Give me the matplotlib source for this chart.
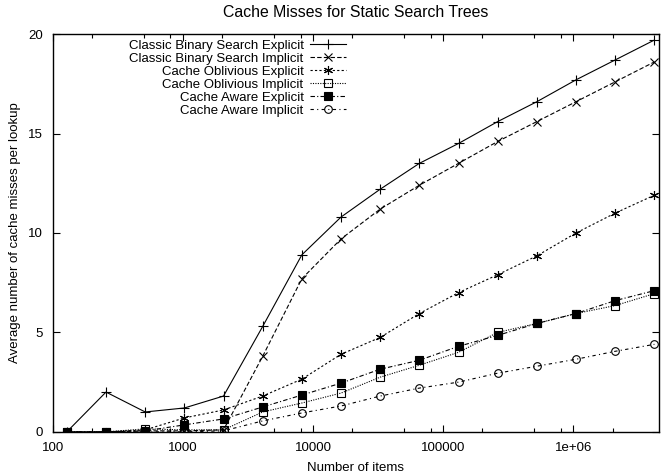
import numpy as np
import matplotlib
matplotlib.use("Agg")
import matplotlib.pyplot as plt
from matplotlib.ticker import FixedLocator, FixedFormatter

plt.rcParams['font.family'] = ['Liberation Sans', 'DejaVu Sans']
plt.rcParams['font.size'] = 9.5

# number of items (powers of two)
items = [128, 256, 512, 1024, 2048, 4096, 8192, 16384, 32768, 65536,
         131072, 262144, 524288, 1048576, 2097152, 4194304]

# average cache misses per lookup
cbs_explicit = [0, 2.0, 1.0, 1.2, 1.8, 5.3, 8.9, 10.8, 12.2, 13.5, 14.5, 15.6, 16.6, 17.7, 18.7, 19.7]
cbs_implicit = [0, 0, 0.05, 0.05, 0.1, 3.8, 7.7, 9.7, 11.2, 12.4, 13.5, 14.6, 15.6, 16.6, 17.6, 18.6]
co_explicit = [0, 0, 0.1, 0.7, 1.1, 1.8, 2.65, 3.9, 4.75, 5.95, 7.0, 7.9, 8.85, 10.0, 11.0, 11.9]
co_implicit = [0, 0, 0.15, 0.1, 0.1, 1.0, 1.45, 1.95, 2.75, 3.35, 4.0, 5.0, 5.45, 5.95, 6.35, 6.95]
ca_explicit = [0, 0, 0.05, 0.35, 0.65, 1.25, 1.85, 2.45, 3.15, 3.6, 4.3, 4.85, 5.45, 5.95, 6.6, 7.1]
ca_implicit = [0, 0, 0, 0, 0.05, 0.55, 0.95, 1.3, 1.8, 2.2, 2.5, 2.95, 3.3, 3.65, 4.05, 4.4]

labels = ["Classic Binary Search Explicit", "Classic Binary Search Implicit",
          "Cache Oblivious Explicit", "Cache Oblivious Implicit",
          "Cache Aware Explicit", "Cache Aware Implicit"]

xticks = [100, 1000, 10000, 100000, 1000000]
xticklabels = ["100", "1000", "10000", "100000", "1e+06"]
yticks = [0, 5, 10, 15, 20]

fig = plt.figure(figsize=(6.61, 4.73), dpi=100)
ax = fig.add_axes([0.080, 0.087, 0.917, 0.841])

lw = 0.8
ax.plot(items, cbs_explicit, color="black", lw=lw, ls="-", marker="+", ms=6.5, mew=0.8, label=labels[0])
ax.plot(items, cbs_implicit, color="black", lw=lw, ls=(0, (4, 2)), marker="x", ms=5.5, mew=0.8, label=labels[1])
ax.plot(items, co_explicit, color="black", lw=lw, ls=(0, (2, 2)), marker=(6, 2, 0), ms=6.5, mew=0.8, label=labels[2])
ax.plot(items, co_implicit, color="black", lw=lw, ls=(0, (1, 1.2)), marker="s", ms=5.5, mew=0.8,
        mfc="none", label=labels[3])
ax.plot(items, ca_explicit, color="black", lw=lw, ls=(0, (4, 2, 1, 2)), marker="s", ms=6, mew=0.8, label=labels[4])
ax.plot(items, ca_implicit, color="black", lw=lw, ls=(0, (3, 3, 1, 3)), marker="o", ms=5.5, mew=0.8,
        mfc="none", label=labels[5])

ax.set_xscale("log")
ax.set_xlim(100, 4.55e6)
ax.set_ylim(0, 20)

ax.xaxis.set_major_locator(FixedLocator(xticks))
ax.xaxis.set_major_formatter(FixedFormatter(xticklabels))
minors = [m * 10 ** e for e in range(2, 7) for m in (2, 5, 8)]
ax.xaxis.set_minor_locator(FixedLocator(minors))
ax.xaxis.set_minor_formatter(FixedFormatter([""] * len(minors)))
ax.set_yticks(yticks)

ax.tick_params(which="both", direction="in", top=True, right=True, width=0.8)
ax.tick_params(which="major", length=5)
ax.tick_params(which="minor", length=3)
ax.tick_params(axis="x", pad=7)
ax.tick_params(axis="y", pad=7)
for s in ax.spines.values():
    s.set_linewidth(1.0)

ax.set_xlabel("Number of items", labelpad=6)
ax.set_ylabel("Average number of cache misses per lookup", labelpad=5)
ax.set_title("Cache Misses for Static Search Trees", pad=12)

ax.legend(loc="upper right", bbox_to_anchor=(0.492, 1.0), frameon=False,
          markerfirst=False, handlelength=2.7, handletextpad=0.5,
          labelspacing=0.06, borderaxespad=0.2, borderpad=0.2)

fig.savefig("out.png", dpi=100)
